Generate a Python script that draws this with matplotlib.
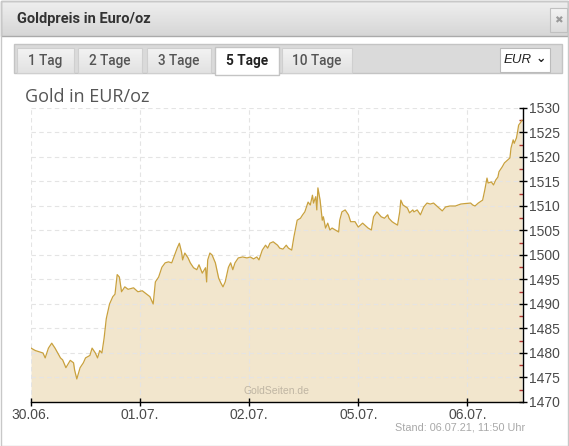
import numpy as np
import matplotlib
matplotlib.use("Agg")
import matplotlib.pyplot as plt
from matplotlib.patches import Rectangle
from matplotlib.ticker import MultipleLocator

# ---- data (time in days since 30.06. 00:00, price in EUR/oz) ----
day_labels = ["30.06.", "01.07.", "02.07.", "05.07.", "06.07."]
t = [0.00, 0.04, 0.11, 0.13, 0.16, 0.19, 0.22, 0.27, 0.29, 0.32, 0.36, 0.39, 0.40, 0.42,
     0.45, 0.48, 0.50, 0.54, 0.56, 0.59, 0.61, 0.63, 0.65, 0.67, 0.69, 0.71, 0.72, 0.75,
     0.77, 0.79, 0.81, 0.83, 0.86, 0.89, 0.94, 0.98, 1.02, 1.06, 1.09, 1.12, 1.14, 1.17,
     1.20, 1.23, 1.26, 1.29, 1.31, 1.34, 1.36, 1.38, 1.39, 1.41, 1.44, 1.46, 1.49, 1.52,
     1.54, 1.57, 1.60, 1.61, 1.62, 1.64, 1.66, 1.69, 1.72, 1.74, 1.76, 1.78, 1.81, 1.83,
     1.85, 1.87, 1.90, 1.94, 1.98, 2.01, 2.04, 2.07, 2.09, 2.12, 2.15, 2.17, 2.19, 2.22,
     2.26, 2.28, 2.31, 2.34, 2.36, 2.39, 2.41, 2.44, 2.47, 2.49, 2.51, 2.54, 2.56, 2.58,
     2.59, 2.61, 2.62, 2.63, 2.65, 2.67, 2.68, 2.70, 2.72, 2.74, 2.76, 2.79, 2.82, 2.83,
     2.85, 2.88, 2.91, 2.93, 2.97, 3.00, 3.04, 3.06, 3.09, 3.12, 3.14, 3.17, 3.18, 3.21,
     3.24, 3.27, 3.28, 3.31, 3.33, 3.36, 3.38, 3.39, 3.41, 3.45, 3.47, 3.50, 3.51, 3.54,
     3.57, 3.60, 3.63, 3.66, 3.69, 3.71, 3.73, 3.77, 3.80, 3.84, 3.89, 3.94, 3.98, 4.03,
     4.05, 4.07, 4.10, 4.14, 4.16, 4.18, 4.19, 4.22, 4.24, 4.26, 4.28, 4.29, 4.32, 4.34,
     4.37, 4.39, 4.40, 4.42, 4.43, 4.45, 4.46, 4.47, 4.49, 4.50]
price = [1481, 1480.5, 1480, 1479, 1481, 1482, 1481, 1479, 1478.6, 1477, 1478.5, 1478, 1476.5, 1474.7,
         1477, 1478, 1479, 1479.5, 1481, 1480, 1479, 1480.5, 1480, 1483, 1487, 1489, 1490, 1491.5,
         1492, 1496, 1495.5, 1492.5, 1493.5, 1493, 1493.3, 1492.5, 1492.7, 1492, 1491.5, 1490, 1494.5, 1495.5,
         1497.5, 1498.4, 1498.6, 1498.4, 1499.6, 1501.4, 1502.4, 1500.6, 1499, 1500.4, 1499.4, 1498.4, 1497.4, 1497,
         1498, 1496.3, 1497.4, 1494.5, 1499, 1500.4, 1500, 1498.4, 1495.3, 1494.3, 1493.5, 1494.5, 1497.5, 1498.4,
         1497, 1498.4, 1499.4, 1499.6, 1499.4, 1499.6, 1499.2, 1499.6, 1499, 1501, 1502, 1501.4, 1502.4, 1502.7,
         1502, 1501.4, 1501.2, 1502, 1501.4, 1501, 1503.7, 1507.1, 1507.5, 1508.2, 1508.8, 1510.8, 1510.2, 1512.2,
         1510.6, 1511.9, 1509.2, 1513.7, 1511.2, 1507.1, 1507.8, 1505.5, 1506.5, 1505.1, 1505.5, 1505.1, 1504.7, 1507.1,
         1508.8, 1509.2, 1508.2, 1506.8, 1506.8, 1505.7, 1506.5, 1506.1, 1505.5, 1505.1, 1507.8, 1508.8, 1508.6, 1507.8,
         1507.5, 1508.2, 1507.5, 1506.8, 1506.5, 1506.1, 1508.8, 1511.2, 1510.2, 1509.6, 1508.6, 1509.2, 1508.8, 1509.2,
         1508.2, 1509.8, 1510.6, 1510.4, 1510.6, 1510.2, 1509.8, 1509, 1509.8, 1510, 1510, 1510.4, 1510.5, 1510.6,
         1510.2, 1510, 1510.6, 1511.2, 1513.3, 1515.7, 1514.7, 1514.9, 1514.3, 1515.3, 1515.9, 1517, 1518, 1518.8,
         1519.4, 1519.8, 1521.8, 1523.5, 1522.8, 1523.9, 1525.1, 1526.5, 1527.1, 1527.5]
y_ticks = [1470, 1475, 1480, 1485, 1490, 1495, 1500, 1505, 1510, 1515, 1520, 1525, 1530]

W, H = 569, 446
fig = plt.figure(figsize=(W / 100, H / 100), dpi=100)
fig.patch.set_facecolor("white")

UI = ["Roboto", "DejaVu Sans"]
ARIAL = ["Liberation Sans", "DejaVu Sans"]

# ---- overlay for widget chrome (pixel coordinates) ----
ov = fig.add_axes([0, 0, 1, 1], zorder=0)
ov.set_xlim(0, W)
ov.set_ylim(H, 0)
ov.axis("off")

def grad(x0, y0, x1, y1, c_top, c_bot, z=1):
    g = np.linspace(0, 1, 64)[:, None]
    ct, cb = np.array(matplotlib.colors.to_rgb(c_top)), np.array(matplotlib.colors.to_rgb(c_bot))
    img = ct[None, None, :] * (1 - g[:, :, None]) + cb[None, None, :] * g[:, :, None]
    ov.imshow(img, extent=(x0, x1, y1, y0), aspect="auto", zorder=z, interpolation="bilinear")

# outer border
ov.add_patch(Rectangle((0.5, 0.5), W - 1, H - 1, fill=False, ec="#c8c8c8", lw=1, zorder=5))
# header bar
grad(1, 1, W - 1, 36, "#efefef", "#d6d6d6", z=1)
ov.add_patch(Rectangle((1, 1), W - 2, 35, fill=False, ec="#aaaaaa", lw=1, zorder=2))
ov.text(17, 19.5, "Goldpreis in Euro/oz", fontsize=10.5, fontweight="bold", color="#333333",
        family=UI, va="center", ha="left", zorder=3)
# close button
grad(550, 8, 567, 32, "#f4f4f4", "#dcdcdc", z=2)
ov.add_patch(Rectangle((550, 8), 17, 24, fill=False, ec="#c0c0c0", lw=0.8, zorder=3))
ov.text(558.5, 20, "\u2716", fontsize=7.5, color="#9a9a9a", family=["DejaVu Sans"],
        va="center", ha="center", zorder=4)

# tab bar
ov.add_patch(Rectangle((14, 44), 548, 29, fc="#dadada", ec="#c4c4c4", lw=1, zorder=1))
tabs = [("1 Tag", 17, 74), ("2 Tage", 78, 142), ("3 Tage", 147, 211),
        ("5 Tage", 215, 279), ("10 Tage", 282, 352)]
for lab, a, b in tabs:
    active = lab == "5 Tage"
    if active:
        ov.add_patch(Rectangle((a, 47), b - a, 28, fc="white", ec="#c4c4c4", lw=1, zorder=2))
    else:
        grad(a, 48, b, 73, "#f3f3f3", "#e2e2e2", z=2)
        ov.add_patch(Rectangle((a, 48), b - a, 25, fill=False, ec="#cfcfcf", lw=0.8, zorder=3))
    ov.text((a + b) / 2, 61, lab, fontsize=9.8, fontweight="bold" if active else "medium",
            color="#222222" if active else "#555555",
            family=UI, va="center", ha="center", zorder=4)
# currency dropdown
ov.add_patch(Rectangle((500, 48), 50, 24, fc="white", ec="#bbbbbb", lw=0.8, zorder=2))
ov.text(518, 60, "EUR", fontsize=9.5, style="italic", color="#222222",
        family=ARIAL, va="center", ha="center", zorder=3)
ov.text(541, 59, "\u2304", fontsize=9, fontweight="bold", color="#222222",
        family=["DejaVu Sans"], va="center", ha="center", zorder=3)

# chart title
ov.text(25, 97, "Gold in EUR/oz", fontsize=13, color="#555555",
        family=["Open Sans", "DejaVu Sans"], va="center", ha="left", zorder=3)

# ---- chart axes ----
L, R, T, B = 31, 523, 108, 402
ax = fig.add_axes([L / W, 1 - B / H, (R - L) / W, (B - T) / H], zorder=2)
ax.patch.set_alpha(0)

line_c = "#c9a13e"
fill_c = "#f2e6cd"
ax.fill_between(t, price, 1470, color=fill_c, lw=0, zorder=1)
ax.plot(t, price, color=line_c, lw=0.9, zorder=2)

ax.set_xlim(0, 4.51)
ax.set_ylim(1470, 1530)
ax.set_xticks(range(len(day_labels)))
ax.set_xticklabels(day_labels)
ax.yaxis.tick_right()
ax.set_yticks(y_ticks)
ax.yaxis.set_minor_locator(MultipleLocator(2.5))

ax.set_axisbelow("line")
ax.grid(True, which="major", color="#e4e4e4", lw=0.8, ls=(0, (4, 3)))

for s in ["top", "left"]:
    ax.spines[s].set_visible(False)
for s in ["bottom", "right"]:
    ax.spines[s].set_color("black")
    ax.spines[s].set_linewidth(1.0)

ax.tick_params(axis="x", which="major", direction="inout", length=6, width=1,
               color="black", labelcolor="#4a4a4a", pad=1, labelsize=10)
ax.tick_params(axis="y", which="major", direction="inout", length=6, width=1,
               color="black", labelcolor="#4a4a4a", pad=1, labelsize=10)
ax.tick_params(axis="y", which="minor", direction="in", length=3, width=1, color="#b03030")
for lbl in ax.get_xticklabels() + ax.get_yticklabels():
    lbl.set_family(ARIAL)

# watermark & footer
ax.text(277, 391, "GoldSeiten.de", fontsize=7.5, color="#bfb5a3", transform=ov.transData,
        family=ARIAL, va="center", ha="center", zorder=3)
ov.text(525, 427, "Stand: 06.07.21, 11:50 Uhr", fontsize=7.8, color="#a8a8a8",
        family=ARIAL, va="center", ha="right", zorder=1)

fig.savefig("out.png", dpi=100)
